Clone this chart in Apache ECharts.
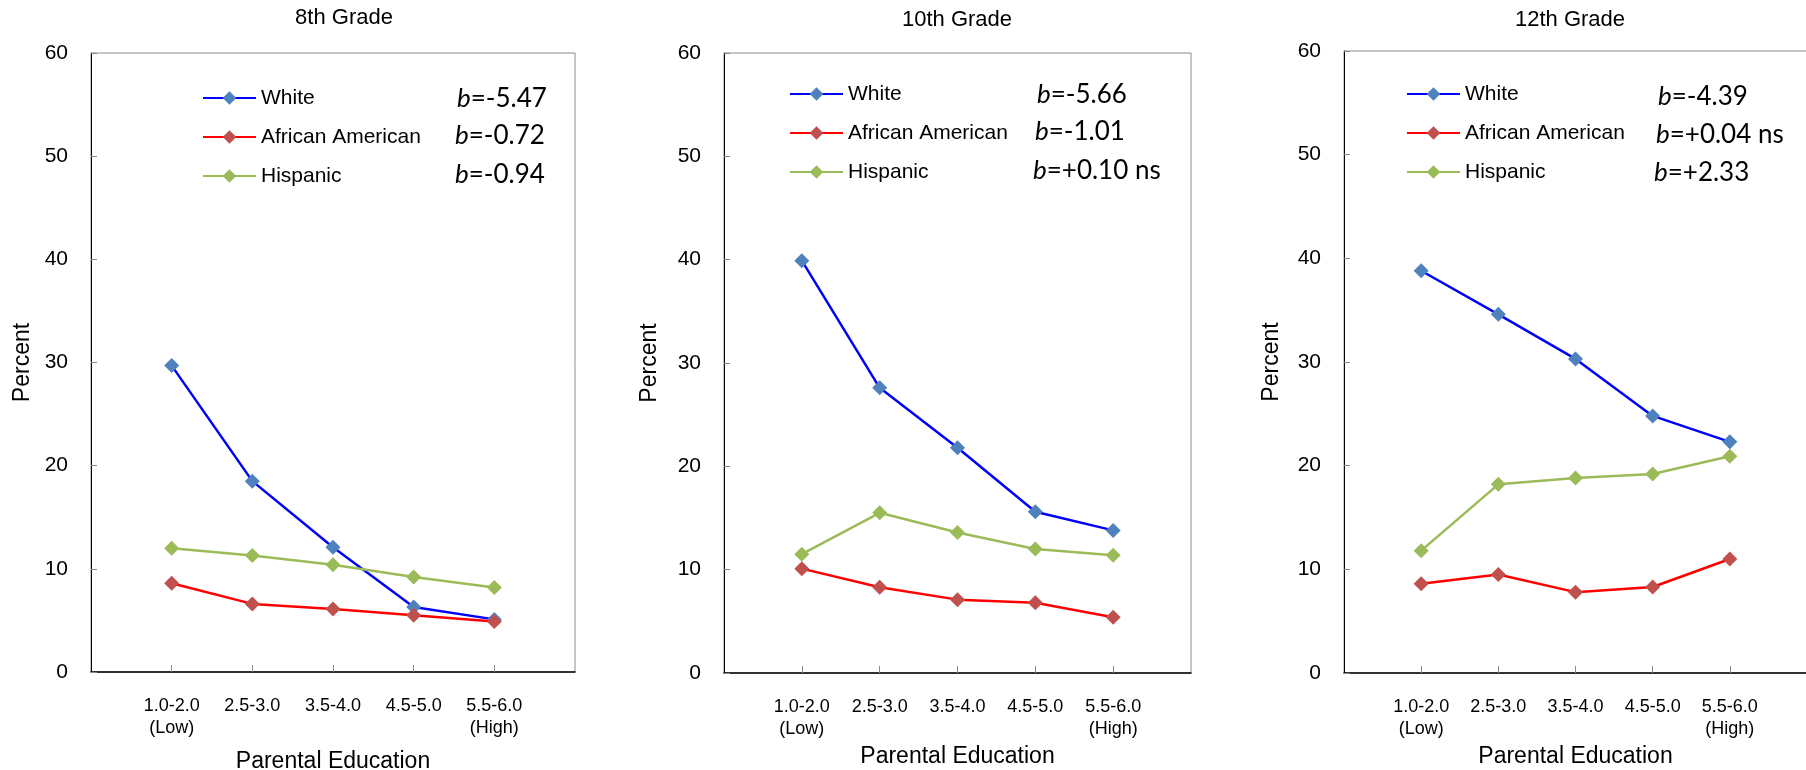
<!DOCTYPE html>
<html>
<head>
<meta charset="utf-8">
<script src="https://cdn.jsdelivr.net/npm/echarts@6/dist/echarts.min.js"></script>
<style>html,body{margin:0;padding:0;background:#fff}#c{width:1806px;height:770px}</style>
</head>
<body>
<div id="c"></div>
<script>
// ---- data ----
const categories = ['1.0-2.0\n(Low)', '2.5-3.0', '3.5-4.0', '4.5-5.0', '5.5-6.0\n(High)'];
const grades = ['8th Grade', '10th Grade', '12th Grade'];
const groups = ['White', 'African American', 'Hispanic'];
const yTicks = [0, 10, 20, 30, 40, 50, 60];

const white8 = [29.7, 18.5, 12.1, 6.3, 5.1];
const afam8 = [8.6, 6.6, 6.1, 5.5, 4.9];
const hisp8 = [12.0, 11.3, 10.4, 9.2, 8.2];

const white10 = [39.9, 27.6, 21.8, 15.6, 13.8];
const afam10 = [10.1, 8.3, 7.1, 6.8, 5.4];
const hisp10 = [11.5, 15.5, 13.6, 12.0, 11.4];

const white12 = [38.8, 34.6, 30.3, 24.8, 22.3];
const afam12 = [8.6, 9.5, 7.8, 8.3, 11.0];
const hisp12 = [11.8, 18.2, 18.8, 19.2, 20.9];

const bValues8 = ['-5.47', '-0.72', '-0.94'];
const bValues10 = ['-5.66', '-1.01', '+0.10 ns'];
const bValues12 = ['-4.39', '+0.04 ns', '+2.33'];

// ---- layout / style ----
const panels = [
  {grid: {left: 91, width: 484, top: 53, bottom: 98}, yNameGap: 57, xNameGap: 78, title: [344, 18],
   legend: {left: 197, top: 82}, bx: [457, 455, 455], by: [99, 136, 175],
   series: [white8, afam8, hisp8], b: bValues8},
  {grid: {left: 724, width: 467, top: 53, bottom: 97}, yNameGap: 63, xNameGap: 57, title: [957, 20],
   legend: {left: 784, top: 78}, bx: [1037, 1035, 1033], by: [95, 132, 171],
   series: [white10, afam10, hisp10], b: bValues10},
  {grid: {left: 1344, width: 463, top: 51, bottom: 97}, yNameGap: 61, xNameGap: 57, title: [1570, 20],
   legend: {left: 1401, top: 78}, bx: [1658, 1656, 1654], by: [97, 135, 173],
   series: [white12, afam12, hisp12], b: bValues12}
];
const lineColors = ['#0000FF', '#FF0000', '#9BBB59'];
const markerColors = ['#4F81BD', '#C0504D', '#9BBB59'];
const FONT = '"Liberation Sans", Arial, sans-serif';
const BFONT = 'Lato, "Open Sans", sans-serif';

const axisCats = [''].concat(categories, ['']);

const option = {
  backgroundColor: '#ffffff',
  animation: false,
  grid: [], xAxis: [], yAxis: [], series: [], legend: [], graphic: []
};

panels.forEach((p, i) => {
  option.grid.push(Object.assign({show: true, borderColor: '#8c8c8c', borderWidth: 1,
    backgroundColor: 'transparent', containLabel: false, outerBoundsMode: 'none'}, p.grid));
  option.xAxis.push({
    type: 'category', gridIndex: i, data: axisCats, boundaryGap: false,
    name: 'Parental Education', nameLocation: 'middle', nameGap: p.xNameGap,
    nameTextStyle: {fontFamily: FONT, fontSize: 23, color: '#000'},
    axisLine: {lineStyle: {color: '#000', width: 1.5}},
    axisTick: {show: true, inside: true, length: 7, lineStyle: {color: '#888'},
      interval: (idx) => idx > 0 && idx < axisCats.length - 1},
    axisLabel: {interval: 0, margin: 23, fontFamily: FONT, fontSize: 18, color: '#000', lineHeight: 22},
    splitLine: {show: false}
  });
  option.yAxis.push({
    type: 'value', gridIndex: i, min: yTicks[0], max: yTicks[yTicks.length - 1], interval: yTicks[1] - yTicks[0],
    name: 'Percent', nameLocation: 'middle', nameGap: p.yNameGap,
    nameTextStyle: {fontFamily: FONT, fontSize: 23, color: '#000'},
    axisLine: {show: true, lineStyle: {color: '#000', width: 1}},
    axisTick: {show: true, inside: true, length: 6, lineStyle: {color: '#888'}},
    axisLabel: {margin: 23, fontFamily: FONT, fontSize: 21, color: '#000'},
    splitLine: {show: false}
  });
  p.series.forEach((vals, k) => {
    option.series.push({
      type: 'line', name: groups[k], xAxisIndex: i, yAxisIndex: i,
      data: ['-'].concat(vals),
      symbol: 'diamond', symbolSize: 15,
      lineStyle: {color: lineColors[k], width: 2.5},
      itemStyle: {color: markerColors[k]}
    });
  });
  option.legend.push({
    orient: 'vertical', left: p.legend.left, top: p.legend.top,
    data: groups, itemWidth: 53, itemHeight: 17, itemGap: 17,
    lineStyle: {width: 2},
    textStyle: {fontFamily: FONT, fontSize: 21, color: '#000', lineHeight: 22},
    selectedMode: false
  });
  option.graphic.push({
    type: 'text', x: p.title[0], y: p.title[1],
    style: {text: grades[i], font: '22px ' + FONT, fill: '#000', align: 'center', verticalAlign: 'middle'}
  });
  p.b.forEach((bv, k) => {
    option.graphic.push({
      type: 'text', x: p.bx[k], y: p.by[k],
      style: {
        text: '{i|b}=' + bv, fill: '#000', align: 'left', verticalAlign: 'middle',
        font: '26px ' + BFONT,
        rich: {i: {fontStyle: 'italic', fontSize: 26, fontFamily: BFONT}}
      }
    });
  });
});

const chart = echarts.init(document.getElementById('c'), null, {renderer: 'canvas'});
chart.setOption(option);
</script>
</body>
</html>
